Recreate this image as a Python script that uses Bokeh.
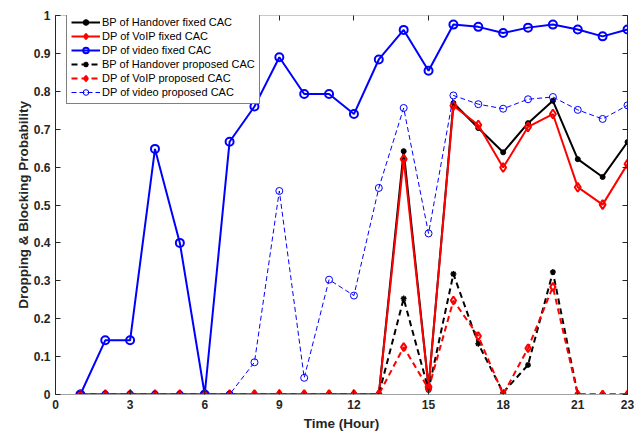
from bokeh.plotting import figure
from bokeh.models import LinearAxis, FixedTicker, Legend, LegendItem, CustomJSTickFormatter, Range1d
from bokeh.embed import file_html
from bokeh.resources import INLINE

hours = list(range(1, 24))

bp_handover_fixed = [0, 0, 0, 0, 0, 0, 0, 0, 0, 0, 0, 0, 0, 0.642, 0.02, 0.769, 0.703, 0.639, 0.716, 0.775, 0.621, 0.574, 0.666]
dp_voip_fixed = [0, 0, 0, 0, 0, 0, 0, 0, 0, 0, 0, 0, 0, 0.621, 0.02, 0.762, 0.711, 0.599, 0.706, 0.740, 0.547, 0.501, 0.608]
dp_video_fixed = [0, 0.143, 0.143, 0.648, 0.40, 0, 0.667, 0.76, 0.89, 0.793, 0.793, 0.74, 0.884, 0.962, 0.854, 0.976, 0.970, 0.954, 0.968, 0.976, 0.963, 0.945, 0.963]
bp_handover_prop = [0, 0, 0, 0, 0, 0, 0, 0, 0, 0, 0, 0, 0, 0.253, 0.012, 0.318, 0.134, 0.005, 0.078, 0.323, 0, 0, 0]
dp_voip_prop = [0, 0, 0, 0, 0, 0, 0, 0, 0, 0, 0, 0, 0, 0.125, 0.015, 0.248, 0.154, 0, 0.122, 0.284, 0, 0, 0]
dp_video_prop = [0, 0, 0, 0, 0, 0, 0, 0.085, 0.537, 0.044, 0.303, 0.261, 0.545, 0.756, 0.425, 0.789, 0.766, 0.754, 0.779, 0.785, 0.751, 0.727, 0.763]

x_ticks = [0, 3, 6, 9, 12, 15, 18, 21, 23]
y_ticks = [0, 0.1, 0.2, 0.3, 0.4, 0.5, 0.6, 0.7, 0.8, 0.9, 1.0]
y_tick_labels = ["0", "0.1", "0.2", "0.3", "0.4", "0.5", "0.6", "0.7", "0.8", "0.9", "1"]

FONT = "Liberation Sans"

p = figure(width=639, height=433, output_backend="svg", toolbar_location=None,
           x_range=Range1d(0, 23), y_range=Range1d(0, 1),
           min_border_left=55, min_border_right=12, min_border_top=15, min_border_bottom=38)
p.grid.visible = False
p.outline_line_color = None
p.background_fill_color = "white"
p.border_fill_color = "white"

def style_axis(ax, line_color):
    ax.minor_tick_line_color = None
    ax.major_tick_in = 5
    ax.major_tick_out = 0
    ax.axis_line_color = line_color
    ax.major_tick_line_color = "#262626"
    ax.major_label_text_font = FONT
    ax.major_label_text_font_style = "bold"
    ax.major_label_text_font_size = "12px"
    ax.major_label_text_color = "#262626"
    ax.axis_label_text_font = FONT
    ax.axis_label_text_font_style = "bold"
    ax.axis_label_text_font_size = "13.5px"
    ax.axis_label_text_color = "#262626"

xa = p.xaxis[0]
xa.ticker = FixedTicker(ticks=x_ticks)
xa.axis_label = "Time (Hour)"
style_axis(xa, "#a0a0a0")
xa.axis_label_standoff = 4

ya = p.yaxis[0]
ya.ticker = FixedTicker(ticks=y_ticks)
ya.major_label_overrides = {t: l for t, l in zip(y_ticks, y_tick_labels)}
ya.axis_label = "Dropping & Blocking Probability"
style_axis(ya, "#262626")
ya.axis_label_standoff = 0

blank = CustomJSTickFormatter(code="return ''")
top = LinearAxis(ticker=FixedTicker(ticks=x_ticks), formatter=blank)
style_axis(top, "#c8c8c8")
top.major_label_standoff = 0
p.add_layout(top, "above")
right = LinearAxis(ticker=FixedTicker(ticks=y_ticks), formatter=blank)
style_axis(right, "#262626")
right.major_label_standoff = 0
p.add_layout(right, "right")

items = []
# fixed CAC
l1 = p.line(hours, bp_handover_fixed, line_color="black", line_width=2)
m1 = p.scatter(hours, bp_handover_fixed, marker="circle", size=5, fill_color="black", line_color="black")
items.append(LegendItem(label="BP of Handover fixed CAC", renderers=[l1, m1]))

l2 = p.line(hours, dp_voip_fixed, line_color="red", line_width=2)
m2 = p.scatter(hours, dp_voip_fixed, marker="diamond", size=9, fill_color=None, line_color="red", line_width=2)
items.append(LegendItem(label="DP of VoIP fixed CAC", renderers=[l2, m2]))

l3 = p.line(hours, dp_video_fixed, line_color="#0000ff", line_width=2)
m3 = p.scatter(hours, dp_video_fixed, marker="circle", size=8, fill_color=None, line_color="#0000ff", line_width=2)
items.append(LegendItem(label="DP of video fixed CAC", renderers=[l3, m3]))

# proposed CAC
l4 = p.line(hours, bp_handover_prop, line_color="black", line_width=2, line_dash="6 4")
m4 = p.scatter(hours, bp_handover_prop, marker="asterisk", size=6, line_color="black", line_width=1.5)
items.append(LegendItem(label="BP of Handover proposed CAC", renderers=[l4, m4]))

l5 = p.line(hours, dp_voip_prop, line_color="red", line_width=2, line_dash="6 4")
m5 = p.scatter(hours, dp_voip_prop, marker="diamond", size=8, fill_color=None, line_color="red", line_width=2)
items.append(LegendItem(label="DP of VoIP proposed CAC", renderers=[l5, m5]))

l6 = p.line(hours, dp_video_prop, line_color="#0000ff", line_width=1, line_dash="5 3")
m6 = p.scatter(hours, dp_video_prop, marker="circle", size=7, fill_color=None, line_color="#0000ff", line_width=1)
items.append(LegendItem(label="DP of video proposed CAC", renderers=[l6, m6]))

legend = Legend(items=items, location=(11, 290), margin=0,
                label_text_font=FONT, label_text_font_size="11px", label_text_color="black",
                glyph_width=29, glyph_height=14, label_height=14, label_standoff=2,
                spacing=0, padding=4, border_line_color="black", border_line_width=1,
                background_fill_color="white", background_fill_alpha=1)
p.add_layout(legend, "center")

open("out.html", "w").write(file_html(p, INLINE))
